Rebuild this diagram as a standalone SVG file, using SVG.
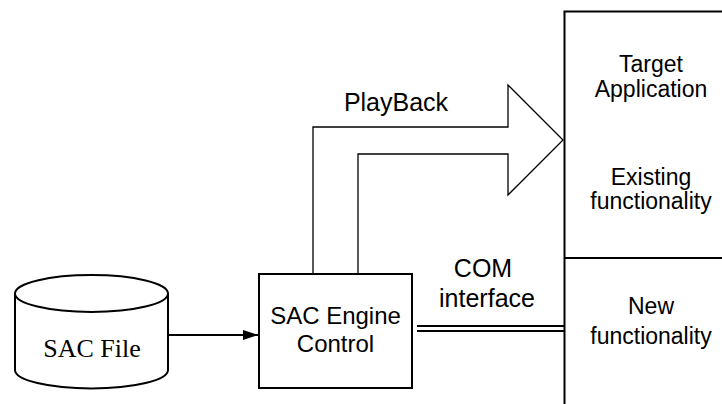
<svg xmlns="http://www.w3.org/2000/svg" width="722" height="404" viewBox="0 0 722 404">
  <style>
    .box { fill: #fff; stroke: #000; stroke-width: 2; }
    .thin { fill: none; stroke: #000; stroke-width: 1.3; stroke-linejoin: miter; }
    .line { fill: none; stroke: #000; stroke-width: 2; }
    .label { font-family: "Liberation Sans", Arial, sans-serif; font-size: 23px; fill: #000; text-anchor: middle; }
    .mid { font-size: 24px; }
    .big { font-size: 25px; }
    .serif { font-family: "Liberation Serif", "Times New Roman", serif; font-size: 26px; fill: #000; text-anchor: middle; }
  </style>
  <defs>
    <marker id="arrowhead" markerWidth="16" markerHeight="12" refX="15" refY="5" orient="auto" markerUnits="userSpaceOnUse">
      <path d="M0,0 L15,5 L0,10 Z" fill="#000"/>
    </marker>
  </defs>
  <rect width="722" height="404" fill="#fff"/>

  <!-- Target application block, running off the right and bottom edges -->
  <g id="target-app">
    <rect class="box" x="564.5" y="11.5" width="200" height="420"/>
    <line class="line" x1="564" y1="258" x2="722" y2="258"/>
    <text class="label" x="651" y="72">Target</text>
    <text class="label" x="651" y="97">Application</text>
    <text class="label" x="651" y="185">Existing</text>
    <text class="label" x="651" y="209">functionality</text>
    <text class="label" x="651" y="314">New</text>
    <text class="label" x="651" y="344">functionality</text>
  </g>

  <!-- SAC file store (cylinder) -->
  <g id="sac-file">
    <path class="box" d="M15,293.5 L15,370 A76.5,18.5 0 0 0 168,370 L168,293.5"/>
    <ellipse class="box" cx="91.5" cy="293.5" rx="76.5" ry="18.5"/>
    <text class="serif" x="92" y="357">SAC File</text>
  </g>

  <!-- SAC engine control -->
  <g id="sac-engine">
    <rect class="box" x="259" y="274" width="153" height="114"/>
    <text class="label mid" x="335.5" y="324">SAC Engine</text>
    <text class="label mid" x="335.5" y="352">Control</text>
  </g>

  <g id="connectors">
    <!-- file to engine -->
    <line class="line" x1="168" y1="335" x2="258" y2="335" marker-end="url(#arrowhead)"/>
    <!-- PlayBack block arrow -->
    <path class="thin" d="M313,273 L313,127 L508,127 L508,85 L563,140 L508,195 L508,154 L358,154 L358,273"/>
    <text class="label big" x="396" y="111">PlayBack</text>
    <!-- COM interface double line -->
    <line class="line" x1="417" y1="326" x2="564" y2="326"/>
    <line class="line" x1="417" y1="331" x2="564" y2="331"/>
    <text class="label big" x="483" y="277">COM</text>
    <text class="label big" x="487" y="307">interface</text>
  </g>
</svg>
